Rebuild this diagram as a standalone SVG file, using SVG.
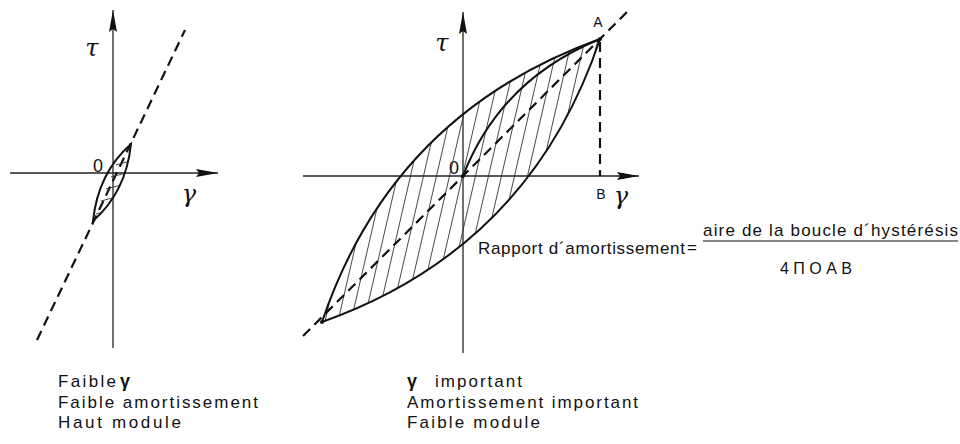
<svg xmlns="http://www.w3.org/2000/svg" width="960" height="444" viewBox="0 0 960 444">
<style>
.ax{stroke:#222;stroke-width:1.3;fill:none}
.dash{stroke:#111;stroke-width:2.2;stroke-dasharray:10 6;fill:none}
.curve{stroke:#111;stroke-width:2;fill:none}
.hatch{stroke:#333;stroke-width:0.9}
.t{font-family:"Liberation Sans",Arial,sans-serif;fill:#111}
.lbl{font-family:"Liberation Sans",Arial,sans-serif;fill:#111}
.sym{font-family:"DejaVu Serif",serif;fill:#111;font-size:24px;font-style:italic}
</style>
<defs>
<marker id="arr" viewBox="0 0 22 8" refX="22" refY="4" markerWidth="22" markerHeight="8" orient="auto" markerUnits="userSpaceOnUse">
<path d="M0,0 L22,4 L0,8 L3,4 z" fill="#111"/>
</marker>
<clipPath id="loopR">
<path d="M322,322 Q392,114 600,39 Q530,248 322,322 z"/>
</clipPath>
<clipPath id="loopL">
<path d="M93,221 Q98,173 131,144 Q126,192 93,221 z"/>
</clipPath>
</defs>

<g id="left-diagram">
<g id="left-axes">
<line class="ax" x1="113" y1="348" x2="113" y2="10" marker-end="url(#arr)"/>
<line class="ax" x1="10" y1="173" x2="218" y2="173" marker-end="url(#arr)"/>
<text class="sym" x="92" y="56" text-anchor="middle">τ</text>
<text class="sym" x="189" y="202" text-anchor="middle">γ</text>
<text class="lbl" x="98" y="172" text-anchor="middle" font-size="18">0</text>
</g>
<g id="left-line">
<line class="dash" x1="37" y1="340" x2="185" y2="30"/>
</g>
<g id="left-loop">
<g clip-path="url(#loopL)">
<line class="hatch" x1="96" y1="214" x2="110" y2="210" stroke-width="1.5"/>
<line class="hatch" x1="101" y1="201" x2="116" y2="197" stroke-width="1.5"/>
<line class="hatch" x1="106" y1="189" x2="121" y2="185" stroke-width="1.5"/>
<line class="hatch" x1="111" y1="177" x2="126" y2="173" stroke-width="1.5"/>
<line class="hatch" x1="116" y1="165" x2="130" y2="161" stroke-width="1.5"/>
</g>
<path class="curve" d="M93,221 Q98,173 131,144 Q126,192 93,221 z"/>
</g>
</g>

<g id="right-diagram">
<g id="right-axes">
<line class="ax" x1="463" y1="353" x2="463" y2="12" marker-end="url(#arr)"/>
<line class="ax" x1="303" y1="176" x2="639" y2="176" marker-end="url(#arr)"/>
<text class="sym" x="442" y="51" text-anchor="middle">τ</text>
<text class="sym" x="621" y="204" text-anchor="middle">γ</text>
<text class="lbl" x="454" y="174" text-anchor="middle" font-size="18">0</text>
<text class="lbl" x="598" y="27" text-anchor="middle" font-size="14">A</text>
<text class="lbl" x="601" y="199" text-anchor="middle" font-size="14">B</text>
</g>
<g id="right-hatch" clip-path="url(#loopR)">
<path class="hatch" d="M313,35 L245,330 M326,35 L258,330 M339,35 L271,330 M352,35 L284,330 M365,35 L297,330 M378,35 L310,330 M391,35 L323,330 M404,35 L336,330 M417,35 L349,330 M430,35 L362,330 M443,35 L375,330 M456,35 L388,330 M469,35 L401,330 M482,35 L414,330 M495,35 L427,330 M508,35 L440,330 M521,35 L453,330 M534,35 L466,330 M547,35 L479,330 M560,35 L492,330 M573,35 L505,330 M586,35 L518,330 M599,35 L531,330 M612,35 L544,330 M625,35 L557,330 M638,35 L570,330 M651,35 L583,330"/>
</g>
<g id="right-lines">
<line class="dash" x1="303" y1="336" x2="627" y2="12"/>
<line class="dash" x1="600" y1="42" x2="600" y2="176"/>
</g>
<g id="hysteresis-loop">
<path class="curve" d="M322,322 Q392,114 600,39"/>
<path class="curve" d="M322,322 Q530,248 600,39"/>
<path class="curve" d="M463,176 Q500,80 600,39"/>
<circle cx="322" cy="322" r="2" fill="#111"/>
<circle cx="600" cy="39" r="2" fill="#111"/>
<circle cx="463" cy="176" r="2" fill="#111"/>
</g>
</g>

<g id="formula">
<text class="t" x="478" y="254" font-size="17" textLength="207" lengthAdjust="spacing">Rapport d´amortissement</text>
<text class="t" x="687" y="253" font-size="17">=</text>
<text class="t" x="703" y="236" font-size="17" textLength="255" lengthAdjust="spacing">aire de la boucle d´hystérésis</text>
<line x1="703" y1="241" x2="958" y2="241" stroke="#111" stroke-width="1.2"/>
<text class="t" x="780" y="274" font-size="16" textLength="72" lengthAdjust="spacing">4ΠOAB</text>
</g>

<g id="caption-left">
<text class="t" x="58" y="387" font-size="17" textLength="58" lengthAdjust="spacing">Faible</text>
<text class="t" x="120" y="387" font-size="18" font-weight="bold">γ</text>
<text class="t" x="58" y="408" font-size="17" textLength="200" lengthAdjust="spacing">Faible amortissement</text>
<text class="t" x="58" y="428" font-size="17" textLength="123" lengthAdjust="spacing">Haut module</text>
</g>

<g id="caption-right">
<text class="t" x="407" y="387" font-size="18" font-weight="bold">γ</text>
<text class="t" x="435" y="387" font-size="17" textLength="87" lengthAdjust="spacing">important</text>
<text class="t" x="407" y="408" font-size="17" textLength="231" lengthAdjust="spacing">Amortissement important</text>
<text class="t" x="407" y="428" font-size="17" textLength="133" lengthAdjust="spacing">Faible module</text>
</g>
</svg>
